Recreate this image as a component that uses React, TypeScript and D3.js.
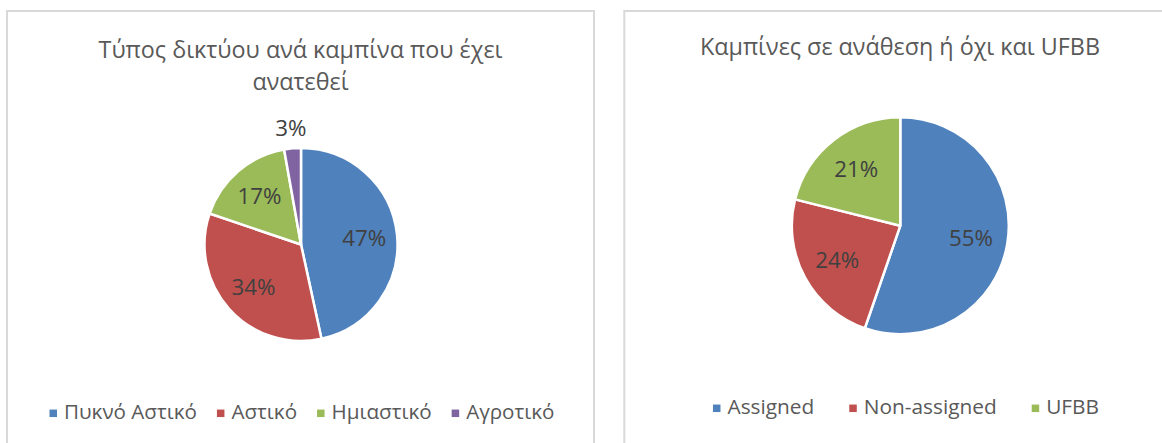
import React, { useEffect, useRef } from 'react';
import * as d3 from 'd3';

// ---------- data ----------
const leftTitleLines = ['Τύπος δικτύου ανά καμπίνα που έχει', 'ανατεθεί'];
const leftCategories = ['Πυκνό Αστικό', 'Αστικό', 'Ημιαστικό', 'Αγροτικό'];
const leftValues = [46.6, 33.6, 17.0, 2.8];

const rightTitleLines = ['Καμπίνες σε ανάθεση ή όχι και UFBB'];
const rightCategories = ['Assigned', 'Non-assigned', 'UFBB'];
const rightValues = [55.3, 23.6, 21.1];

// ---------- styles ----------
const PALETTE = ['#4F81BD', '#C0504D', '#9BBB59', '#8064A2'];
const FONT = "'Open Sans', 'Noto Sans', 'DejaVu Sans', sans-serif";
const W = 1162;
const H = 443;

type PanelCfg = {
  title: string[];
  categories: string[];
  values: number[];
  rect: { x: number; y: number; w: number; h: number };
  pie: { cx: number; cy: number; r: number };
  titleX: number;
  titleBaselines: number[];
  legendCx: number;
  legendBaseline: number;
  legendGap: number;
  legendFitText: string;
};

const panels: PanelCfg[] = [
  {
    title: leftTitleLines,
    categories: leftCategories,
    values: leftValues,
    rect: { x: 7, y: 11, w: 587, h: 460 },
    pie: { cx: 301, cy: 244.5, r: 96.5 },
    titleX: 300.5,
    titleBaselines: [58.3, 90.3],
    legendCx: 302,
    legendBaseline: 419.3,
    legendGap: 20,
    legendFitText: 'Πυκνό Αστικό',
  },
  {
    title: rightTitleLines,
    categories: rightCategories,
    values: rightValues,
    rect: { x: 624.3, y: 11, w: 600, h: 460 },
    pie: { cx: 900.3, cy: 225.7, r: 108.5 },
    titleX: 900,
    titleBaselines: [55],
    legendCx: 906,
    legendBaseline: 414.3,
    legendGap: 35,
    legendFitText: 'Non-assigned',
  },
];

export default function App() {
  const ref = useRef<SVGSVGElement>(null);

  useEffect(() => {
    const svg = d3.select(ref.current as SVGSVGElement);
    svg.selectAll('*').remove();

    const measure = (text: string, size: number) => {
      const t = svg
        .append('text')
        .attr('font-family', FONT)
        .attr('font-size', size)
        .text(text);
      const w = (t.node() as SVGTextElement).getComputedTextLength();
      t.remove();
      return w;
    };
    const fit = (text: string, target: number) => (100 * target) / measure(text, 100);

    const titleSize = fit(leftTitleLines[0], 404);
    const labelSize = fit('47%', 44);

    svg.append('rect').attr('width', W).attr('height', H).attr('fill', '#ffffff');

    panels.forEach((p) => {
      const g = svg.append('g');
      g.append('rect')
        .attr('x', p.rect.x)
        .attr('y', p.rect.y)
        .attr('width', p.rect.w)
        .attr('height', p.rect.h)
        .attr('fill', '#ffffff')
        .attr('stroke', '#d9d9d9')
        .attr('stroke-width', 2);

      // title
      p.title.forEach((line, i) => {
        g.append('text')
          .attr('x', p.titleX)
          .attr('y', p.titleBaselines[i])
          .attr('text-anchor', 'middle')
          .attr('font-family', FONT)
          .attr('font-size', titleSize)
          .attr('fill', '#595959')
          .text(line);
      });

      // pie
      const total = d3.sum(p.values);
      const pie = d3
        .pie<number>()
        .sort(null)
        .value((d) => d)
        .startAngle(0)
        .endAngle(2 * Math.PI);
      const arcs = pie(p.values);
      const arc = d3.arc<d3.PieArcDatum<number>>().innerRadius(0).outerRadius(p.pie.r);
      const labelArc = d3
        .arc<d3.PieArcDatum<number>>()
        .innerRadius(p.pie.r * 0.66)
        .outerRadius(p.pie.r * 0.66);
      const outerArc = d3
        .arc<d3.PieArcDatum<number>>()
        .innerRadius(p.pie.r + 20)
        .outerRadius(p.pie.r + 20);

      const pg = g.append('g').attr('transform', `translate(${p.pie.cx},${p.pie.cy})`);
      pg.selectAll('path')
        .data(arcs)
        .join('path')
        .attr('d', (d) => arc(d) as string)
        .attr('fill', (_, i) => PALETTE[i])
        .attr('stroke', '#ffffff')
        .attr('stroke-width', 2.5)
        .attr('stroke-linejoin', 'round');

      pg.selectAll('text')
        .data(arcs)
        .join('text')
        .attr('transform', (d) => {
          const share = d.data / total;
          const c = share < 0.05 ? outerArc.centroid(d) : labelArc.centroid(d);
          return `translate(${c[0]},${c[1]})`;
        })
        .attr('dy', '0.36em')
        .attr('text-anchor', 'middle')
        .attr('font-family', FONT)
        .attr('font-size', labelSize)
        .attr('fill', '#404040')
        .text((d) => `${Math.round((d.data / total) * 100)}%`);

      // legend
      const legendSize = fit(p.legendFitText, 133);
      const marker = 7.5;
      const mGap = 7;
      const widths = p.categories.map((c) => measure(c, legendSize));
      const itemW = widths.map((w) => marker + mGap + w);
      const totalW = d3.sum(itemW) + p.legendGap * (p.categories.length - 1);
      let x = p.legendCx - totalW / 2;
      const lg = g.append('g');
      p.categories.forEach((c, i) => {
        lg.append('rect')
          .attr('x', x)
          .attr('y', p.legendBaseline - 6 - marker / 2)
          .attr('width', marker)
          .attr('height', marker)
          .attr('fill', PALETTE[i]);
        lg.append('text')
          .attr('x', x + marker + mGap)
          .attr('y', p.legendBaseline)
          .attr('font-family', FONT)
          .attr('font-size', legendSize)
          .attr('fill', '#595959')
          .text(c);
        x += itemW[i] + p.legendGap;
      });
    });
  }, []);

  return (
    <svg
      ref={ref}
      width={W}
      height={H}
      style={{ position: 'absolute', left: 0, top: 0, display: 'block' }}
    />
  );
}
